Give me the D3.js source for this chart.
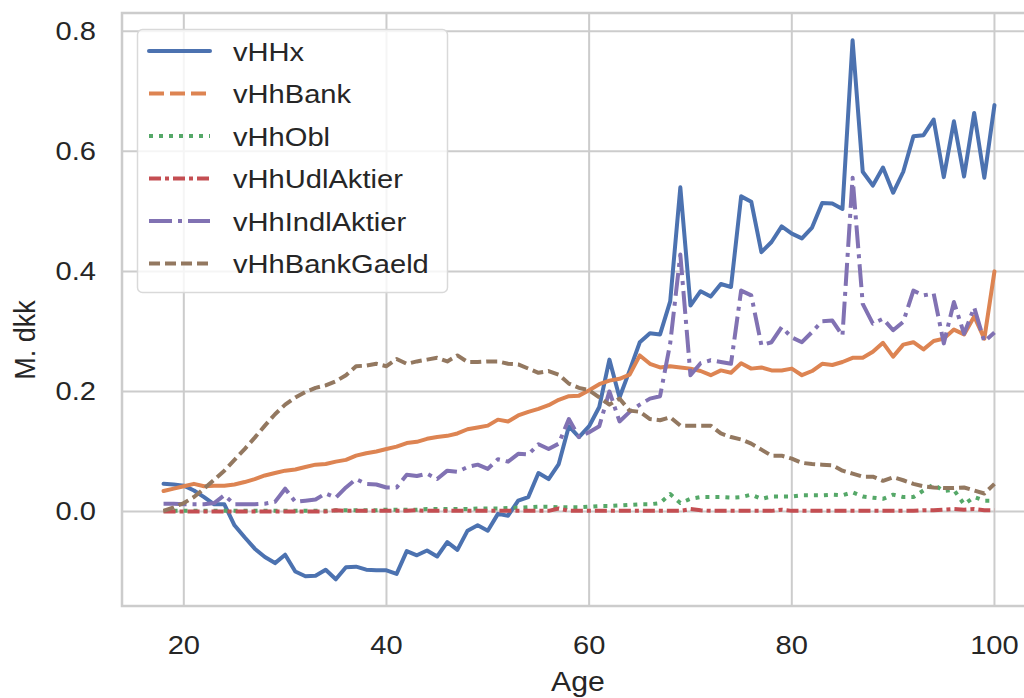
<!DOCTYPE html>
<html>
<head>
<meta charset="utf-8">
<script src="https://cdn.jsdelivr.net/npm/d3@7"></script>
<style>
  html, body { margin: 0; padding: 0; background: #fff; }
  svg text { font-family: "Liberation Sans", Arial, sans-serif; fill: #262626; }
</style>
</head>
<body>
<svg id="chart" width="1024" height="698"></svg>
<script>
const ages = d3.range(18, 101);
const seriesNames = ["vHHx", "vHhBank", "vHhObl", "vHhUdlAktier", "vHhIndlAktier", "vHhBankGaeld"];
const xTicks = [20, 40, 60, 80, 100];
const yTicks = [0.0, 0.2, 0.4, 0.6, 0.8];

const vHHx = [0.046,0.045,0.043,0.035,0.024,0.012,0.012,-0.023,-0.043,-0.062,-0.076,-0.086,-0.072,-0.100,-0.108,-0.107,-0.097,-0.113,-0.093,-0.092,-0.097,-0.098,-0.098,-0.104,-0.066,-0.073,-0.065,-0.075,-0.051,-0.064,-0.032,-0.023,-0.032,-0.004,-0.007,0.018,0.024,0.064,0.054,0.079,0.142,0.124,0.142,0.174,0.253,0.19,0.235,0.282,0.297,0.295,0.35,0.54,0.343,0.367,0.358,0.379,0.374,0.525,0.516,0.432,0.449,0.475,0.463,0.455,0.473,0.514,0.513,0.504,0.785,0.566,0.543,0.573,0.531,0.566,0.625,0.627,0.653,0.557,0.65,0.558,0.664,0.556,0.677];
const vHhBank = [0.034,0.038,0.042,0.046,0.042,0.043,0.043,0.045,0.049,0.054,0.06,0.064,0.068,0.07,0.074,0.078,0.079,0.083,0.086,0.093,0.097,0.1,0.104,0.108,0.114,0.116,0.121,0.124,0.126,0.13,0.137,0.14,0.143,0.153,0.15,0.16,0.166,0.171,0.177,0.186,0.192,0.193,0.202,0.212,0.218,0.221,0.228,0.26,0.246,0.24,0.242,0.24,0.238,0.234,0.227,0.235,0.231,0.247,0.238,0.24,0.235,0.235,0.238,0.227,0.234,0.246,0.244,0.249,0.256,0.256,0.266,0.281,0.258,0.278,0.282,0.27,0.284,0.288,0.303,0.295,0.325,0.288,0.4];
const vHhObl = [0.001,0.001,0.001,0.001,0.001,0.001,0.001,0.001,0.001,0.001,0.001,0.001,0.001,0.001,0.001,0.001,0.001,0.002,0.002,0.002,0.002,0.002,0.003,0.003,0.003,0.003,0.004,0.004,0.004,0.004,0.004,0.005,0.005,0.005,0.006,0.006,0.007,0.008,0.008,0.007,0.007,0.007,0.008,0.009,0.009,0.01,0.011,0.012,0.012,0.014,0.029,0.014,0.021,0.024,0.024,0.024,0.023,0.024,0.028,0.021,0.025,0.025,0.025,0.027,0.027,0.027,0.028,0.027,0.032,0.025,0.023,0.021,0.028,0.024,0.024,0.035,0.045,0.034,0.036,0.012,0.024,0.018,0.018];
const vHhUdlAktier = [0,0,0,0,0,0,0,0,0,0,0,0,0,0,0,0,0,0.002,0.001,0.001,0.001,0.001,0.001,0.001,0.001,0.002,0.001,0.001,0.001,0.001,0.001,0.001,0.001,0.001,0.001,0.001,0.001,0.001,0.001,0.005,0.001,0.001,0.001,0.001,0.001,0.001,0.001,0.001,0.001,0.001,0.001,0.001,0.004,0.002,0.001,0.001,0.001,0.001,0.001,0.001,0.001,0.003,0.001,0.001,0.001,0.001,0.001,0.001,0.001,0.001,0.001,0.001,0.001,0.001,0.001,0.002,0.002,0.003,0.004,0.003,0.004,0.002,0.002];
const vHhIndlAktier = [0.013,0.013,0.012,0.012,0.012,0.014,0.027,0.012,0.012,0.012,0.013,0.016,0.038,0.016,0.018,0.02,0.03,0.023,0.04,0.054,0.046,0.045,0.04,0.04,0.061,0.059,0.063,0.054,0.068,0.066,0.074,0.078,0.071,0.087,0.083,0.096,0.095,0.112,0.104,0.113,0.154,0.124,0.132,0.142,0.2,0.15,0.166,0.178,0.188,0.192,0.28,0.428,0.227,0.247,0.252,0.249,0.246,0.368,0.36,0.277,0.282,0.307,0.29,0.282,0.299,0.317,0.318,0.293,0.556,0.346,0.313,0.321,0.302,0.316,0.368,0.36,0.363,0.28,0.349,0.296,0.34,0.283,0.298];
const vHhBankGaeld = [0.001,0.007,0.014,0.024,0.038,0.053,0.068,0.086,0.104,0.123,0.143,0.162,0.178,0.19,0.199,0.206,0.21,0.217,0.227,0.242,0.243,0.246,0.242,0.254,0.246,0.25,0.253,0.256,0.25,0.26,0.249,0.249,0.25,0.25,0.246,0.245,0.238,0.231,0.234,0.228,0.213,0.206,0.202,0.19,0.178,0.188,0.168,0.166,0.154,0.152,0.157,0.143,0.143,0.143,0.143,0.13,0.124,0.12,0.113,0.103,0.093,0.093,0.088,0.081,0.079,0.078,0.077,0.068,0.063,0.058,0.058,0.051,0.057,0.052,0.046,0.042,0.04,0.039,0.039,0.04,0.035,0.03,0.046];

const seriesValues = [vHHx, vHhBank, vHhObl, vHhUdlAktier, vHhIndlAktier, vHhBankGaeld];
const colors = ["#4C72B0", "#DD8452", "#55A868", "#C44E52", "#8172B3", "#937860"];
const plotDash = [null, null, "4,6", "12,4,4,4", "23,6,4,6", "11,5"];
const legendDash = [null, "15,6", "4,6", "12,4,4,4", "23,6,4,6", "11,5"];

const svg = d3.select("#chart");
const L = 122, R = 1036, T = 13, B = 606;
const x = d3.scaleLinear().domain([13.9, 104.1]).range([L, R]);
const y = d3.scaleLinear().domain([-0.1575, 0.8305]).range([B, T]);
const grid = "#cccccc";
const SX = 1.12;

// grid
const g = svg.append("g");
g.selectAll(".vg").data(xTicks).enter().append("line")
  .attr("x1", d => x(d)).attr("x2", d => x(d)).attr("y1", T).attr("y2", B)
  .attr("stroke", grid).attr("stroke-width", 2);
g.selectAll(".hg").data(yTicks).enter().append("line")
  .attr("x1", L).attr("x2", R).attr("y1", d => y(d)).attr("y2", d => y(d))
  .attr("stroke", grid).attr("stroke-width", 2);

// lines
const line = d3.line().x((d, i) => x(ages[i])).y(d => y(d));
seriesValues.forEach((vals, k) => {
  svg.append("path").datum(vals)
    .attr("d", line)
    .attr("fill", "none")
    .attr("stroke", colors[k])
    .attr("stroke-width", 4)
    .attr("stroke-linejoin", "round")
    .attr("stroke-linecap", plotDash[k] ? "butt" : "round")
    .attr("stroke-dasharray", plotDash[k]);
});

// spines
svg.append("rect").attr("x", L).attr("y", T).attr("width", R - L).attr("height", B - T)
  .attr("fill", "none").attr("stroke", grid).attr("stroke-width", 2.5);

// tick labels
svg.selectAll(".xt").data(xTicks).enter().append("text")
  .attr("transform", d => `translate(${x(d)},654) scale(${SX},1)`)
  .attr("text-anchor", "middle").attr("font-size", 26)
  .text(d => d3.format("d")(d));
svg.selectAll(".yt").data(yTicks).enter().append("text")
  .attr("transform", d => `translate(96,${y(d) + 9}) scale(${SX},1)`)
  .attr("text-anchor", "end").attr("font-size", 26)
  .text(d => d3.format(".1f")(d));

// axis labels
svg.append("text").attr("transform", `translate(578,691) scale(${SX},1)`).attr("text-anchor", "middle")
  .attr("font-size", 27).text("Age");
svg.append("text").attr("transform", `translate(35,340) scale(${SX},1) rotate(-90)`)
  .attr("text-anchor", "middle").attr("font-size", 27).text("M. dkk");

// legend
const lg = svg.append("g");
lg.append("rect").attr("x", 137.5).attr("y", 29.5).attr("width", 310).attr("height", 263)
  .attr("rx", 5).attr("fill", "#ffffff").attr("fill-opacity", 0.8)
  .attr("stroke", "#d9d9d9").attr("stroke-width", 1.5);
seriesNames.forEach((name, k) => {
  const yy = 51 + k * 42.5;
  lg.append("line").attr("x1", 149).attr("x2", 210).attr("y1", yy).attr("y2", yy)
    .attr("stroke", colors[k]).attr("stroke-width", 4)
    .attr("stroke-linecap", legendDash[k] ? "butt" : "round")
    .attr("stroke-dasharray", legendDash[k]);
  lg.append("text").attr("transform", `translate(233,${yy + 9.5}) scale(${SX},1)`)
    .attr("font-size", 26).text(name);
});
</script>
</body>
</html>
